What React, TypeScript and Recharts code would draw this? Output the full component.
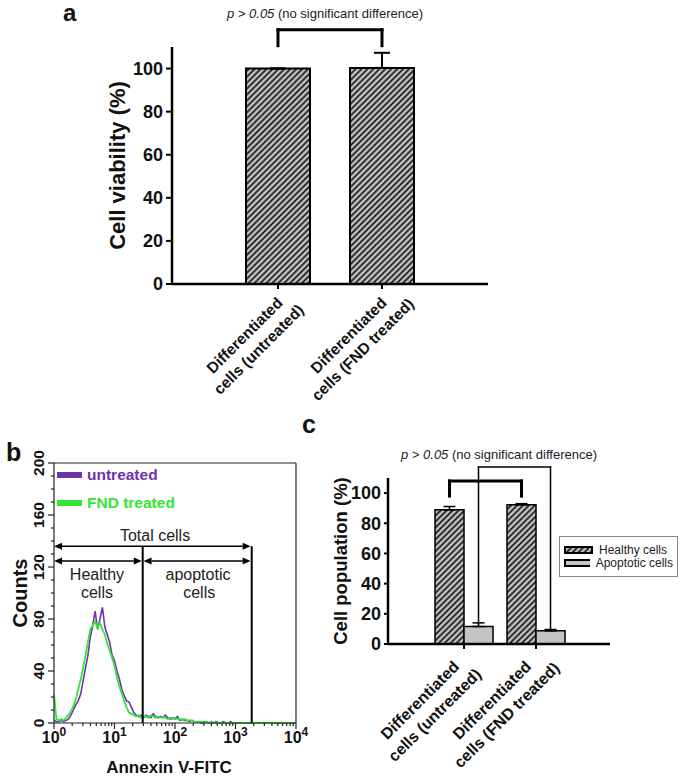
import React from 'react';
import {
  BarChart,
  Bar,
  LineChart,
  Line,
  XAxis,
  YAxis,
  ErrorBar,
  ReferenceLine,
  ReferenceDot,
  Legend,
  Label,
} from 'recharts';

const FONT = 'Arial, "Liberation Sans", Helvetica, sans-serif';
const HATCH_BG = '#c6c6c6';
const APOP_FILL = '#c4c4c4';
const PURPLE = '#7232a8';
const GREEN = '#33e633';

// ---- panel a: cell viability
const viabilityGroups = ['untreated', 'FND treated'];
const groupLabelLines = [
  ['Differentiated', 'cells (untreated)'],
  ['Differentiated', 'cells (FND treated)'],
];
const viability = [100, 100.3];
const viabilityErr = [0, 7];
const percentTicks = [0, 20, 40, 60, 80, 100];

// ---- panel b: annexin V histogram (bins are log10 of intensity)
const binStep = 0.04;
const untreatedCounts = [
  2, 1, 1, 2, 1, 2, 3, 6, 10, 14,
  17, 22, 32, 42, 52, 66, 75, 86, 72, 80,
  89, 74, 68, 62, 52, 48, 40, 34, 26, 21,
  17, 16, 12, 8, 6, 5, 6, 4, 6, 5,
  4, 7, 5, 4, 5, 4, 6, 4, 3, 4,
  3, 5, 2, 3, 2, 2, 1, 2, 1, 1,
  1, 0, 1, 1, 0, 1, 0, 1, 0, 0,
  1, 0, 0, 1, 0, 0, 0, 0, 0, 0,
  0, 0, 0, 0, 0, 0, 0, 0, 0, 0,
  0, 0, 0, 0, 0, 0, 0, 0, 0, 0,
  0,
];
const fndCounts = [
  22, 3, 2, 3, 2, 4, 6, 9, 13, 18,
  26, 33, 42, 52, 62, 72, 75, 78, 73, 77,
  72, 68, 61, 56, 50, 44, 35, 28, 23, 17,
  12, 8, 7, 6, 5, 6, 4, 5, 5, 4,
  6, 5, 4, 5, 4, 5, 4, 3, 4, 3,
  4, 3, 3, 2, 3, 2, 2, 2, 1, 1,
  1, 1, 0, 1, 0, 1, 0, 0, 0, 0,
  0, 0, 0, 0, 0, 0, 0, 0, 0, 0,
  0, 0, 0, 0, 0, 0, 0, 0, 0, 0,
  0, 0, 0, 0, 0, 0, 0, 0, 0, 0,
  0,
];
const histSeries = [
  { key: 'untreated', name: 'untreated', color: PURPLE, width: 1.6 },
  { key: 'fnd', name: 'FND treated', color: GREEN, width: 1.8 },
];
const countTicks = [0, 40, 80, 120, 160, 200];
const countMinorStep = 10;
const decades = [0, 1, 2, 3, 4];
const minorMultipliers = [2, 3, 4, 5, 6, 7, 8, 9];

// gates drawn on the histogram
const gateSplit = 1.466;
const gateEnd = 3.268;
const healthyArrow = [0, 1.45];
const apoptoticArrow = [1.48, 3.25];
const totalArrowY = 136;
const subArrowY = 124.6;
const gateLabels = [
  { x: 1.67, y: 140, text: 'Total cells' },
  { x: 0.71, y: 110, text: 'Healthy' },
  { x: 0.71, y: 96, text: 'cells' },
  { x: 2.38, y: 110, text: 'apoptotic' },
  { x: 2.4, y: 96, text: 'cells' },
];

// ---- panel c: cell population
const populationGroups = viabilityGroups;
const healthy = [88.9, 92.2];
const healthyErr = [2.2, 0.8];
const apoptotic = [11.6, 8.7];
const apoptoticErr = [2.4, 0.9];
const populationSeries = [
  { key: 'healthy', name: 'Healthy cells', fill: 'url(#hatch)' },
  { key: 'apoptotic', name: 'Apoptotic cells', fill: APOP_FILL },
];

const viabilityData = viabilityGroups.map((g, i) => ({
  group: g,
  value: viability[i],
  err: [0, viabilityErr[i]],
}));

const histData = untreatedCounts.map((v, i) => ({
  x: +(i * binStep).toFixed(2),
  untreated: v,
  fnd: fndCounts[i],
}));

const populationData = populationGroups.map((g, i) => ({
  group: g,
  healthy: healthy[i],
  healthyErr: [0, healthyErr[i]],
  apoptotic: apoptotic[i],
  apoptoticErr: [0, apoptoticErr[i]],
}));

const countTickValues = countTicks.flatMap((t, i) =>
  i < countTicks.length - 1 ? [t, t + countMinorStep, t + 2 * countMinorStep, t + 3 * countMinorStep] : [t]
);
const decadeTickValues = decades.flatMap((d, i) =>
  i < decades.length - 1 ? [d, ...minorMultipliers.map((m) => d + Math.log10(m))] : [d]
);

const BAR_A = 64;
const BAR_C = 29;

function GroupTick(props: any) {
  const { x, y, payload, along, first, gap, size } = props;
  const lines = groupLabelLines[viabilityGroups.indexOf(payload.value)] ?? [];
  return (
    <g transform={`translate(${x},${y - 5}) rotate(-45)`}>
      {lines.map((t, i) => (
        <text
          key={i}
          x={along}
          y={first + i * gap}
          textAnchor="middle"
          fontFamily={FONT}
          fontWeight="bold"
          fontSize={size}
          fill="#111"
        >
          {t}
        </text>
      ))}
    </g>
  );
}

function CountTick(props: any) {
  const { x, y, payload } = props;
  const major = countTicks.includes(payload.value);
  return (
    <g>
      <line x1={x - (major ? 6 : 3)} x2={x} y1={y} y2={y} stroke="#222" strokeWidth={1.2} />
      {major && (
        <text
          transform={`translate(${x - 16},${y}) rotate(-90)`}
          textAnchor="middle"
          dominantBaseline="central"
          fontFamily={FONT}
          fontWeight="bold"
          fontSize={15.5}
          fill="#111"
        >
          {payload.value}
        </text>
      )}
    </g>
  );
}

function DecadeTick(props: any) {
  const { x, y, payload } = props;
  const major = decades.includes(payload.value);
  return (
    <g>
      <line x1={x} x2={x} y1={y} y2={y + (major ? 6 : 3)} stroke="#222" strokeWidth={1.2} />
      {major && (
        <text x={x} y={y + 20} textAnchor="middle" fontFamily={FONT} fontWeight="bold" fontSize={16} fill="#111">
          10
          <tspan fontSize={12} dy={-7}>
            {payload.value}
          </tspan>
        </text>
      )}
    </g>
  );
}

const axisTitle = (text: string, dx: number, size: number) => (p: any) => {
  const vb = p.viewBox ?? { x: 0, y: 0, width: 0, height: 0 };
  const cx = vb.x + dx;
  const cy = vb.y + vb.height / 2;
  return (
    <text
      transform={`translate(${cx},${cy}) rotate(-90)`}
      textAnchor="middle"
      dominantBaseline="central"
      fontFamily={FONT}
      fontWeight="bold"
      fontSize={size}
      fill="#111"
    >
      {text}
    </text>
  );
};

const bracketLine = (dx: number, width: number) => (p: any) => (
  <line
    x1={p.x1 + dx}
    y1={p.y1}
    x2={p.x2 + dx}
    y2={p.y2}
    stroke="#000"
    strokeWidth={width}
    strokeLinecap="square"
  />
);

const arrowShape = (p: any) => {
  const { x1, y1, x2, y2 } = p;
  const L = 8;
  const W = 3.5;
  return (
    <g>
      <line x1={x1 + L} y1={y1} x2={x2 - L} y2={y2} stroke="#000" strokeWidth={1.5} />
      <polygon points={`${x1},${y1} ${x1 + L},${y1 - W} ${x1 + L},${y1 + W}`} fill="#000" />
      <polygon points={`${x2},${y2} ${x2 - L},${y2 - W} ${x2 - L},${y2 + W}`} fill="#000" />
    </g>
  );
};

const axisLineStyle = { stroke: '#000', strokeWidth: 2.5 };
const tickLineStyle = { stroke: '#000', strokeWidth: 2 };
const bigTick = { fontSize: 18, fontWeight: 'bold', fill: '#111', fontFamily: FONT };

function ViabilityPanel() {
  const [g0, g1] = viabilityGroups;
  return (
    <BarChart
      width={685}
      height={440}
      data={viabilityData}
      margin={{ top: 47, right: 197, bottom: 0, left: 0 }}
      barSize={BAR_A}
    >
      <XAxis
        dataKey="group"
        height={156}
        padding={{ left: 54, right: 54 }}
        axisLine={axisLineStyle}
        tickLine={tickLineStyle}
        tickSize={5}
        tickMargin={0}
        interval={0}
        tick={(p: any) => <GroupTick {...p} along={-60} first={18} gap={20} size={15.5} />}
      />
      <YAxis
        width={172}
        domain={[0, 110]}
        ticks={percentTicks}
        interval={0}
        axisLine={axisLineStyle}
        tickLine={tickLineStyle}
        tickSize={6}
        tickMargin={3}
        tick={bigTick}
      >
        <Label content={axisTitle('Cell viability (%)', 117, 22)} />
      </YAxis>
      <Bar dataKey="value" fill="url(#hatch)" stroke="#000" strokeWidth={2} isAnimationActive={false}>
        <ErrorBar dataKey="err" width={8} stroke="#000" strokeWidth={2} isAnimationActive={false} />
      </Bar>
      <ReferenceLine
        segment={[{ x: g0, y: 118 }, { x: g1, y: 118 }]}
        ifOverflow="visible"
        shape={bracketLine(0, 3)}
      />
      <ReferenceLine
        segment={[{ x: g0, y: 110.6 }, { x: g0, y: 118 }]}
        ifOverflow="visible"
        shape={bracketLine(0, 3)}
      />
      <ReferenceLine
        segment={[{ x: g1, y: 110.6 }, { x: g1, y: 118 }]}
        ifOverflow="visible"
        shape={bracketLine(0, 3)}
      />
    </BarChart>
  );
}

function HistogramPanel() {
  const frame = { stroke: '#222', strokeWidth: 1.2 };
  return (
    <LineChart width={330} height={341} data={histData} margin={{ top: 22, right: 33, bottom: 0, left: 0 }}>
      <XAxis
        dataKey="x"
        type="number"
        domain={[0, 4]}
        ticks={decadeTickValues}
        interval={0}
        height={58}
        axisLine={frame}
        tickLine={false}
        tickSize={0}
        tickMargin={0}
        tick={(p: any) => <DecadeTick {...p} />}
      >
        <Label
          content={(p: any) => {
            const vb = p.viewBox ?? { x: 0, y: 0, width: 0 };
            return (
              <text
                x={vb.x + vb.width / 2 - 6}
                y={vb.y + 50}
                textAnchor="middle"
                fontFamily={FONT}
                fontWeight="bold"
                fontSize={17}
                fill="#111"
              >
                Annexin V-FITC
              </text>
            );
          }}
        />
      </XAxis>
      <XAxis xAxisId="top" orientation="top" dataKey="x" type="number" domain={[0, 4]} height={1} axisLine={frame} tick={false} tickLine={false} />
      <YAxis
        type="number"
        domain={[0, 200]}
        ticks={countTickValues}
        interval={0}
        width={54}
        axisLine={frame}
        tickLine={false}
        tickSize={0}
        tickMargin={0}
        tick={(p: any) => <CountTick {...p} />}
      >
        <Label content={axisTitle('Counts', 20, 20)} />
      </YAxis>
      <YAxis yAxisId="right" orientation="right" domain={[0, 200]} width={1} axisLine={frame} tick={false} tickLine={false} />
      <Legend
        layout="vertical"
        align="center"
        verticalAlign="middle"
        wrapperStyle={{ left: 57, top: 21, width: 'auto' }}
        content={() => (
          <div style={{ fontFamily: FONT, fontWeight: 'bold', fontSize: 15.5, whiteSpace: 'nowrap' }}>
            {histSeries.map((s) => (
              <div key={s.key} style={{ display: 'flex', alignItems: 'center', height: 28 }}>
                <span style={{ display: 'inline-block', width: 25, height: 6, background: s.color }} />
                <span style={{ marginLeft: 5, color: s.color }}>{s.name}</span>
              </div>
            ))}
          </div>
        )}
      />
      {histSeries.map((s) => (
        <Line
          key={s.key}
          dataKey={s.key}
          name={s.name}
          type="linear"
          stroke={s.color}
          strokeWidth={s.width}
          dot={false}
          isAnimationActive={false}
        />
      ))}
      <ReferenceLine segment={[{ x: gateSplit, y: 0 }, { x: gateSplit, y: totalArrowY }]} stroke="#000" strokeWidth={2} />
      <ReferenceLine segment={[{ x: gateEnd, y: 0 }, { x: gateEnd, y: totalArrowY }]} stroke="#000" strokeWidth={2} />
      <ReferenceLine segment={[{ x: 0, y: totalArrowY }, { x: apoptoticArrow[1], y: totalArrowY }]} shape={arrowShape} />
      <ReferenceLine segment={[{ x: healthyArrow[0], y: subArrowY }, { x: healthyArrow[1], y: subArrowY }]} shape={arrowShape} />
      <ReferenceLine segment={[{ x: apoptoticArrow[0], y: subArrowY }, { x: apoptoticArrow[1], y: subArrowY }]} shape={arrowShape} />
      {gateLabels.map((g, i) => (
        <ReferenceDot
          key={i}
          x={g.x}
          y={g.y}
          shape={(p: any) => (
            <text x={p.cx} y={p.cy} textAnchor="middle" fontFamily={FONT} fontSize={16} fill="#222">
              {g.text}
            </text>
          )}
        />
      ))}
    </LineChart>
  );
}

function PopulationPanel() {
  const [g0, g1] = populationGroups;
  const h = BAR_C / 2;
  return (
    <BarChart
      width={355}
      height={341}
      data={populationData}
      margin={{ top: 38, right: 75, bottom: 0, left: 0 }}
      barSize={BAR_C}
      barGap={0}
    >
      <XAxis
        dataKey="group"
        height={137}
        padding={{ left: 40, right: 38 }}
        axisLine={axisLineStyle}
        tickLine={tickLineStyle}
        tickSize={5}
        tickMargin={0}
        interval={0}
        tick={(p: any) => <GroupTick {...p} along={-71} first={14} gap={21} size={16} />}
      />
      <YAxis
        width={58}
        domain={[0, 110]}
        ticks={percentTicks}
        interval={0}
        axisLine={axisLineStyle}
        tickLine={tickLineStyle}
        tickSize={4}
        tickMargin={3}
        tick={bigTick}
      >
        <Label content={axisTitle('Cell population (%)', 10, 18.5)} />
      </YAxis>
      <Legend
        layout="vertical"
        align="center"
        verticalAlign="middle"
        wrapperStyle={{ left: 229, top: 96, width: 'auto' }}
        content={() => (
          <div
            style={{
              fontFamily: FONT,
              fontSize: 12,
              color: '#222',
              border: '1px solid #888',
              background: '#fff',
              padding: '6px 4px 7px 4px',
              width: 109,
              whiteSpace: 'nowrap',
            }}
          >
            {populationSeries.map((s) => (
              <div key={s.key} style={{ display: 'flex', alignItems: 'center', height: 13 }}>
                <svg width={29} height={8}>
                  <rect x={1} y={1} width={27} height={6} fill={s.fill} stroke="#000" strokeWidth={2} />
                </svg>
                <span style={{ marginLeft: 6 }}>{s.name}</span>
              </div>
            ))}
          </div>
        )}
      />
      <Bar dataKey="healthy" name="Healthy cells" fill="url(#hatch)" stroke="#000" strokeWidth={1.5} isAnimationActive={false}>
        <ErrorBar dataKey="healthyErr" width={6} stroke="#000" strokeWidth={1.5} isAnimationActive={false} />
      </Bar>
      <Bar dataKey="apoptotic" name="Apoptotic cells" fill={APOP_FILL} stroke="#000" strokeWidth={1.5} isAnimationActive={false}>
        <ErrorBar dataKey="apoptoticErr" width={6} stroke="#000" strokeWidth={1.5} isAnimationActive={false} />
      </Bar>
      {/* healthy vs healthy */}
      <ReferenceLine segment={[{ x: g0, y: 108 }, { x: g1, y: 108 }]} ifOverflow="visible" shape={bracketLine(-h, 3)} />
      <ReferenceLine segment={[{ x: g0, y: 98 }, { x: g0, y: 108 }]} ifOverflow="visible" shape={bracketLine(-h, 3)} />
      <ReferenceLine segment={[{ x: g1, y: 98 }, { x: g1, y: 108 }]} ifOverflow="visible" shape={bracketLine(-h, 3)} />
      {/* apoptotic vs apoptotic */}
      <ReferenceLine segment={[{ x: g0, y: 117.3 }, { x: g1, y: 117.3 }]} ifOverflow="visible" shape={bracketLine(h, 1.5)} />
      <ReferenceLine segment={[{ x: g0, y: 13.5 }, { x: g0, y: 117.3 }]} ifOverflow="visible" shape={bracketLine(h, 1.5)} />
      <ReferenceLine segment={[{ x: g1, y: 10 }, { x: g1, y: 117.3 }]} ifOverflow="visible" shape={bracketLine(h, 1.5)} />
    </BarChart>
  );
}

export default function App() {
  return (
    <div style={{ position: 'absolute', left: 0, top: 0, width: 685, height: 781, background: '#fff', overflow: 'hidden' }}>
      <svg width={0} height={0} style={{ position: 'absolute' }}>
        <defs>
          <pattern id="hatch" patternUnits="userSpaceOnUse" width={4.2} height={4.2} patternTransform="rotate(45)">
            <rect width={4.2} height={4.2} fill={HATCH_BG} />
            <line x1={2.1} y1={0} x2={2.1} y2={4.2} stroke="#111" strokeWidth={1.7} />
          </pattern>
        </defs>
      </svg>
      <div style={{ position: 'absolute', left: 0, top: 0 }}>
        <ViabilityPanel />
      </div>
      <div style={{ position: 'absolute', left: 0, top: 440 }}>
        <HistogramPanel />
      </div>
      <div style={{ position: 'absolute', left: 330, top: 440 }}>
        <PopulationPanel />
      </div>
      <svg width={685} height={781} style={{ position: 'absolute', left: 0, top: 0, pointerEvents: 'none' }}>
        <g fontFamily={FONT} fill="#111">
          <text x={63} y={21} fontSize={24} fontWeight="bold">a</text>
          <text x={6} y={461} fontSize={25} fontWeight="bold">b</text>
          <text x={302} y={433} fontSize={25} fontWeight="bold">c</text>
          <text x={325} y={18} fontSize={13} textAnchor="middle" fill="#222">
            <tspan fontStyle="italic">p &gt; 0.05</tspan> (no significant difference)
          </text>
          <text x={499} y={459} fontSize={13} textAnchor="middle" fill="#222">
            <tspan fontStyle="italic">p &gt; 0.05</tspan> (no significant difference)
          </text>
        </g>
      </svg>
    </div>
  );
}
